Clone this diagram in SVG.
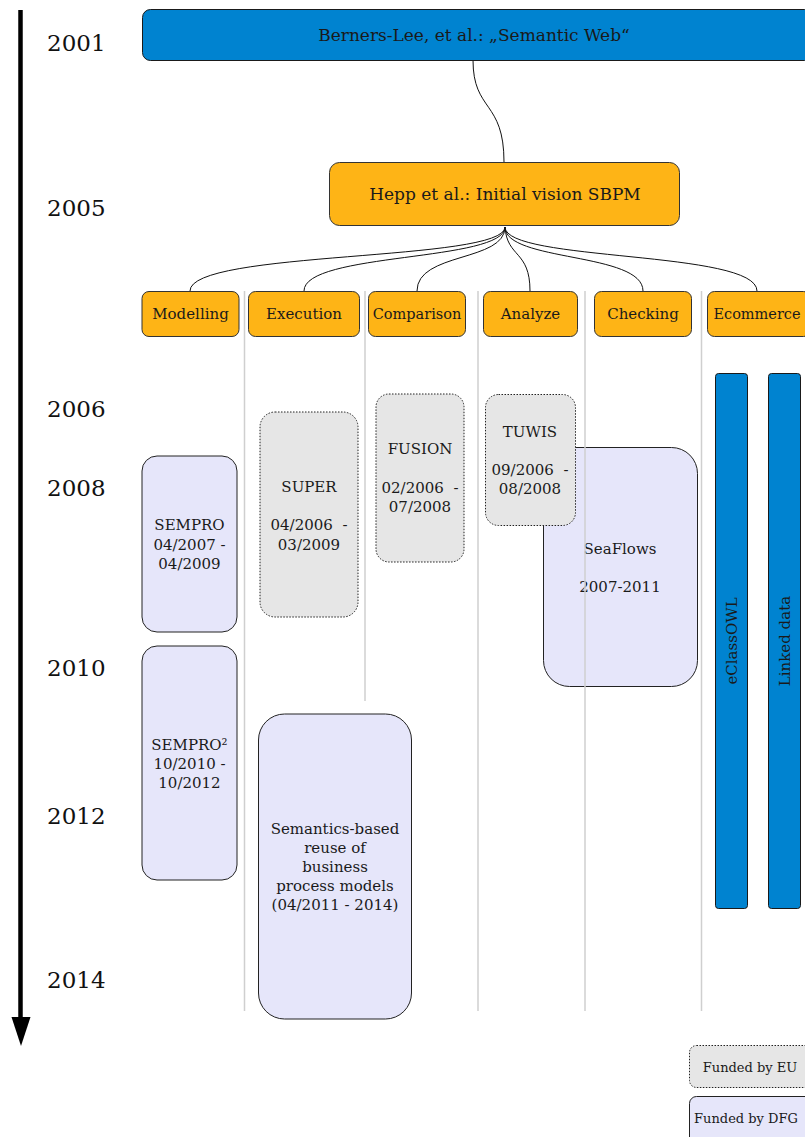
<svg xmlns="http://www.w3.org/2000/svg" width="805" height="1137" viewBox="0 0 805 1137">
  <defs>
    <style>
      text { font-family: "DejaVu Serif", "Liberation Serif", serif; fill: #1a1a1a; text-anchor: middle; }
      .year { font-size: 23px; text-anchor: start; fill: #111; }
      .blue { fill: #0083d0; stroke: #1a1a1a; stroke-width: 1; }
      .orange { fill: #feb416; stroke: #333; stroke-width: 1; }
      .dfg { fill: #e6e6fa; stroke: #222; stroke-width: 1; }
      .eu { fill: #e6e6e6; stroke: #222; stroke-width: 1; stroke-dasharray: 1.5 1.5; }
      .grid { stroke: #cfcfcf; stroke-width: 1.5; fill: none; }
      .edge { stroke: #111; stroke-width: 1; fill: none; }
      .lbl { font-size: 15px; }
      .cat { font-size: 15px; }
    </style>
  </defs>

  <!-- time axis -->
  <g id="axis">
    <line x1="20.5" y1="10" x2="20.5" y2="1020" stroke="#000" stroke-width="4.5"/>
    <polygon points="11.5,1017 30.5,1017 21,1046" fill="#000"/>
    <text class="year" x="47" y="51">2001</text>
    <text class="year" x="47" y="216">2005</text>
    <text class="year" x="47" y="417">2006</text>
    <text class="year" x="47" y="496">2008</text>
    <text class="year" x="47" y="676">2010</text>
    <text class="year" x="47" y="824">2012</text>
    <text class="year" x="47" y="988">2014</text>
  </g>

  <!-- connectors -->
  <g id="connectors">
    <path class="edge" d="M473,60 C473,112 504,100 504,162"/>
    <path class="edge" d="M505,227 C505,262 190,250 190,291"/>
    <path class="edge" d="M505,227 C505,262 304,252 304,291"/>
    <path class="edge" d="M505,227 C505,262 417,252 417,291"/>
    <path class="edge" d="M505,227 C507,258 530,250 530,291"/>
    <path class="edge" d="M505,227 C505,262 643,252 643,291"/>
    <path class="edge" d="M505,227 C505,262 757,250 757,291"/>
  </g>

  <!-- top nodes -->
  <g id="semantic-web">
    <rect class="blue" x="142.5" y="9.5" width="670" height="51" rx="8"/>
    <text x="474" y="41" style="font-size:17px">Berners-Lee, et al.: „Semantic Web“</text>
  </g>
  <g id="sbpm-vision">
    <rect class="orange" x="329.5" y="162.5" width="350" height="63" rx="10"/>
    <text x="505" y="200" style="font-size:17px">Hepp et al.: Initial vision SBPM</text>
  </g>

  <!-- category headers -->
  <g id="cat-modelling">
    <rect class="orange" x="142" y="291.5" width="97" height="45" rx="7"/>
    <text class="cat" x="190.5" y="319">Modelling</text>
  </g>
  <g id="cat-execution">
    <rect class="orange" x="248.5" y="291.5" width="111" height="45" rx="7"/>
    <text class="cat" x="304" y="319">Execution</text>
  </g>
  <g id="cat-comparison">
    <rect class="orange" x="368.5" y="291.5" width="97" height="45" rx="7"/>
    <text class="cat" x="417" y="319" style="font-size:14.5px">Comparison</text>
  </g>
  <g id="cat-analyze">
    <rect class="orange" x="483.5" y="291.5" width="94" height="45" rx="7"/>
    <text class="cat" x="530.5" y="319">Analyze</text>
  </g>
  <g id="cat-checking">
    <rect class="orange" x="594.5" y="291.5" width="97" height="45" rx="7"/>
    <text class="cat" x="643" y="319">Checking</text>
  </g>
  <g id="cat-ecommerce">
    <rect class="orange" x="707.5" y="291.5" width="103" height="45" rx="7"/>
    <text class="cat" x="757" y="319" style="font-size:14.5px">Ecommerce</text>
  </g>

  <!-- projects -->
  <g id="sempro">
    <rect class="dfg" x="142" y="456" width="95" height="176" rx="15"/>
    <text class="lbl" x="189.5" y="530">SEMPRO</text>
    <text class="lbl" x="189.5" y="550">04/2007 -</text>
    <text class="lbl" x="189.5" y="569">04/2009</text>
  </g>
  <g id="sempro2">
    <rect class="dfg" x="142" y="646" width="95" height="234" rx="15"/>
    <text class="lbl" x="189.5" y="750">SEMPRO²</text>
    <text class="lbl" x="189.5" y="769">10/2010 -</text>
    <text class="lbl" x="189.5" y="788">10/2012</text>
  </g>
  <g id="super">
    <rect class="eu" x="260" y="412" width="98" height="205" rx="15"/>
    <text class="lbl" x="309" y="492">SUPER</text>
    <text class="lbl" x="309" y="530" xml:space="preserve">04/2006  -</text>
    <text class="lbl" x="309" y="550">03/2009</text>
  </g>
  <g id="fusion">
    <rect class="eu" x="376" y="394" width="88" height="168" rx="13"/>
    <text class="lbl" x="420" y="454">FUSION</text>
    <text class="lbl" x="420" y="493" xml:space="preserve">02/2006  -</text>
    <text class="lbl" x="420" y="512">07/2008</text>
  </g>
  <g id="seaflows">
    <rect class="dfg" x="543.5" y="447.5" width="154" height="239" rx="26"/>
    <text class="lbl" x="620" y="554">SeaFlows</text>
    <text class="lbl" x="620" y="592">2007-2011</text>
  </g>
  <g id="tuwis">
    <rect class="eu" x="485.5" y="394.5" width="90" height="131" rx="13"/>
    <text class="lbl" x="530" y="437">TUWIS</text>
    <text class="lbl" x="530" y="475" xml:space="preserve">09/2006  -</text>
    <text class="lbl" x="530" y="494">08/2008</text>
  </g>
  <g id="reuse">
    <rect class="dfg" x="258.5" y="714" width="153" height="305" rx="26"/>
    <text class="lbl" x="335" y="834">Semantics-based</text>
    <text class="lbl" x="335" y="853">reuse of</text>
    <text class="lbl" x="335" y="872">business</text>
    <text class="lbl" x="335" y="891">process models</text>
    <text class="lbl" x="335" y="910">(04/2011 - 2014)</text>
  </g>
  <g id="eclassowl">
    <rect class="blue" x="715.5" y="373.5" width="32" height="535" rx="3"/>
    <text class="lbl" transform="translate(737,641) rotate(-90)">eClassOWL</text>
  </g>
  <g id="linked-data">
    <rect class="blue" x="768.5" y="373.5" width="32" height="535" rx="3"/>
    <text class="lbl" transform="translate(790,641) rotate(-90)">Linked data</text>
  </g>

  <!-- column separators -->
  <g id="columns">
    <line class="grid" x1="244.5" y1="291" x2="244.5" y2="1011"/>
    <line class="grid" x1="365" y1="291" x2="365" y2="701"/>
    <line class="grid" x1="478" y1="291" x2="478" y2="1011"/>
    <line class="grid" x1="585" y1="291" x2="585" y2="1011"/>
    <line class="grid" x1="701.5" y1="291" x2="701.5" y2="1011"/>
  </g>

  <!-- legend -->
  <g id="legend-eu">
    <rect class="eu" x="689.5" y="1045.5" width="125" height="42" rx="7"/>
    <text x="750" y="1072" style="font-size:13px">Funded by EU</text>
  </g>
  <g id="legend-dfg">
    <rect class="dfg" x="689.5" y="1096.5" width="125" height="50" rx="7"/>
    <text x="746" y="1123" style="font-size:13px">Funded by DFG</text>
  </g>
</svg>
